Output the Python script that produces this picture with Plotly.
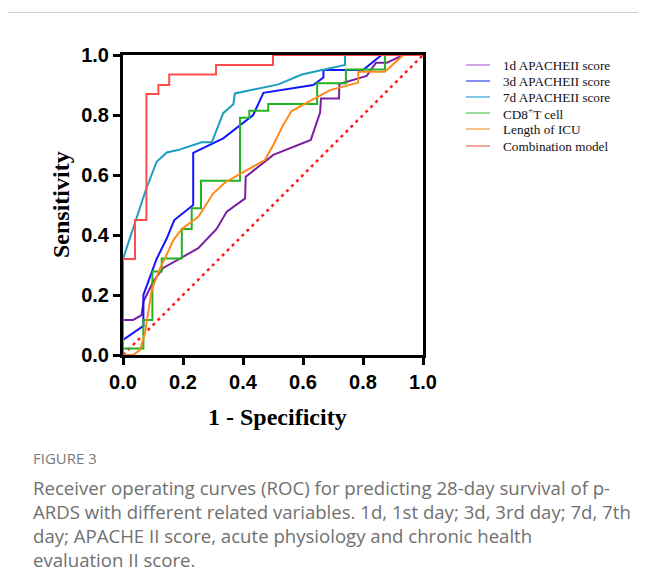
import plotly.graph_objects as go

# ---- data ----
names = ["1d APACHEII score", "3d APACHEII score", "7d APACHEII score",
         "CD8<sup>+</sup>T cell", "Length of ICU", "Combination model"]

fpr_1d = [0, 0, 0.034, 0.062, 0.068, 0.101, 0.134, 0.196, 0.251, 0.312, 0.346, 0.407, 0.409,
          0.501, 0.626, 0.657, 0.66, 0.72, 0.721, 0.812, 0.843, 0.879, 0.934, 1.0]
tpr_1d = [0, 0.117, 0.117, 0.133, 0.178, 0.245, 0.29, 0.325, 0.356, 0.42, 0.478, 0.522, 0.594,
          0.667, 0.717, 0.808, 0.855, 0.855, 0.903, 0.93, 0.974, 0.974, 1.0, 1.0]

fpr_3d = [0, 0, 0.068, 0.068, 0.112, 0.146, 0.171, 0.234, 0.234, 0.334, 0.434, 0.468, 0.634,
          0.668, 0.668, 0.80, 0.862, 1.0]
tpr_3d = [0, 0.05, 0.097, 0.2, 0.32, 0.389, 0.45, 0.50, 0.674, 0.722, 0.80, 0.874, 0.90,
          0.925, 0.95, 0.95, 1.0, 1.0]

fpr_7d = [0, 0, 0.076, 0.112, 0.146, 0.183, 0.262, 0.296, 0.334, 0.368, 0.373, 0.518, 0.596,
          0.668, 0.74, 0.74, 1.0]
tpr_7d = [0, 0.32, 0.55, 0.644, 0.675, 0.683, 0.709, 0.709, 0.806, 0.836, 0.872, 0.902, 0.935,
          0.95, 0.967, 1.0, 1.0]

fpr_cd8 = [0, 0, 0.068, 0.068, 0.098, 0.098, 0.129, 0.129, 0.196, 0.196, 0.229, 0.229, 0.26,
           0.26, 0.39, 0.39, 0.421, 0.421, 0.484, 0.484, 0.647, 0.647, 0.743, 0.743, 0.873,
           0.873, 1.0]
tpr_cd8 = [0, 0.022, 0.022, 0.117, 0.117, 0.278, 0.278, 0.322, 0.322, 0.42, 0.42, 0.489, 0.489,
           0.581, 0.581, 0.791, 0.791, 0.814, 0.814, 0.837, 0.837, 0.906, 0.906, 0.952, 0.952,
           1.0, 1.0]

fpr_icu = [0, 0.034, 0.057, 0.073, 0.096, 0.123, 0.14, 0.168, 0.196, 0.251, 0.301, 0.34, 0.473,
           0.501, 0.534, 0.562, 0.69, 0.784, 0.784, 0.873, 0.934, 1.0]
tpr_icu = [0, 0, 0.017, 0.072, 0.217, 0.289, 0.322, 0.383, 0.42, 0.461, 0.539, 0.575, 0.65,
           0.70, 0.767, 0.813, 0.883, 0.908, 0.944, 0.944, 1.0, 1.0]

fpr_comb = [0, 0, 0.04, 0.04, 0.078, 0.078, 0.118, 0.118, 0.154, 0.154, 0.31, 0.31, 0.5, 0.5, 1.0]
tpr_comb = [0, 0.32, 0.32, 0.45, 0.45, 0.87, 0.87, 0.90, 0.90, 0.935, 0.935, 0.967, 0.967, 1.0, 1.0]

ref_x = [0, 1]
ref_y = [0, 1]

tick_vals = [0, 0.2, 0.4, 0.6, 0.8, 1.0]
tick_text = ["0.0", "0.2", "0.4", "0.6", "0.8", "1.0"]

caption_head = "FIGURE 3"
caption_lines = [
    "Receiver operating curves (ROC) for predicting 28-day survival of p-",
    "ARDS with different related variables. 1d, 1st day; 3d, 3rd day; 7d, 7th",
    "day; APACHE II score, acute physiology and chronic health",
    "evaluation II score.",
]

# ---- styles ----
line_colors = ["#7a1fa0", "#1414ff", "#1c9fbf", "#22b422", "#ff8a1a", "#ff4c4c"]
legend_colors = ["#bf86e0", "#5a6cf0", "#5ab4e0", "#78d078", "#f8a860", "#f08878"]

series = [(fpr_1d, tpr_1d), (fpr_3d, tpr_3d), (fpr_7d, tpr_7d),
          (fpr_cd8, tpr_cd8), (fpr_icu, tpr_icu), (fpr_comb, tpr_comb)]

fig = go.Figure()
fig.add_trace(go.Scatter(x=ref_x, y=ref_y, mode="lines",
                         line=dict(color="#ff1a1a", width=2.5, dash="3px,4px"),
                         showlegend=False, hoverinfo="skip"))
for (xs, ys), nm, c in zip(series, names, line_colors):
    fig.add_trace(go.Scatter(x=xs, y=ys, mode="lines", name=nm,
                             line=dict(color=c, width=2), showlegend=False))

OFF = 8  # page body margin
W, H = 646 - OFF, 588 - OFF
L, R, T, B = 123, 423, 55, 355  # plot area in page pixels


def px2x(px):
    return (px - L) / (R - L)


def py2y(py):
    return (B - py) / (B - T)


shapes = []
annotations = []

# legend (custom)
leg_y = [65, 81, 97, 113, 129, 146]
for nm, c, yy in zip(names, legend_colors, leg_y):
    shapes.append(dict(type="line", xref="paper", yref="paper",
                       x0=px2x(466), x1=px2x(490), y0=py2y(yy), y1=py2y(yy),
                       line=dict(color=c, width=1.5)))
    annotations.append(dict(xref="paper", yref="paper", x=px2x(501), y=py2y(yy),
                            xanchor="left", yanchor="middle", showarrow=False,
                            text=nm, font=dict(family="Liberation Serif", size=13.2, color="#111")))

# axis titles
annotations.append(dict(xref="paper", yref="paper", x=px2x(277), y=py2y(417),
                        xanchor="center", yanchor="middle", showarrow=False,
                        text="<b>1 - Specificity</b>",
                        font=dict(family="Liberation Serif", size=24, color="#000")))
annotations.append(dict(xref="paper", yref="paper", x=px2x(61), y=py2y(205),
                        xanchor="center", yanchor="middle", showarrow=False, textangle=-90,
                        text="<b>Sensitivity</b>",
                        font=dict(family="Liberation Serif", size=24, color="#000")))

# caption
annotations.append(dict(xref="paper", yref="paper", x=px2x(31), y=py2y(458),
                        xanchor="left", yanchor="middle", showarrow=False,
                        text=caption_head,
                        font=dict(family="Open Sans", size=15, color="#7a7a7a")))
for i, ln in enumerate(caption_lines):
    annotations.append(dict(xref="paper", yref="paper", x=px2x(31), y=py2y(487 + 24 * i),
                            xanchor="left", yanchor="middle", showarrow=False,
                            text=ln,
                            font=dict(family="Open Sans", size=18.6, color="#707070")))

# frame
shapes.append(dict(type="line", xref="paper", yref="paper",
                   x0=px2x(7.5), x1=px2x(660), y0=py2y(12.5), y1=py2y(12.5),
                   line=dict(color="#d0d0d0", width=1)))
shapes.append(dict(type="line", xref="paper", yref="paper",
                   x0=px2x(7.5), x1=px2x(7.5), y0=py2y(12.5), y1=py2y(600),
                   line=dict(color="#d0d0d0", width=1)))

axis_common = dict(range=[0, 1], tickmode="array", tickvals=tick_vals, ticktext=tick_text,
                   showgrid=False, zeroline=False, showline=True, linecolor="#000",
                   linewidth=3, mirror=True, ticks="outside", ticklen=7, tickwidth=3,
                   tickcolor="#000",
                   tickfont=dict(family="Liberation Sans", size=20, color="#000", weight="bold"))

fig.update_layout(
    width=W, height=H,
    margin=dict(l=L - OFF, r=(W + OFF) - R, t=T - OFF, b=(H + OFF) - B, pad=0),
    paper_bgcolor="white", plot_bgcolor="white",
    xaxis=axis_common, yaxis=axis_common,
    shapes=shapes, annotations=annotations,
    showlegend=False,
)

fig.write_html("out.html")
